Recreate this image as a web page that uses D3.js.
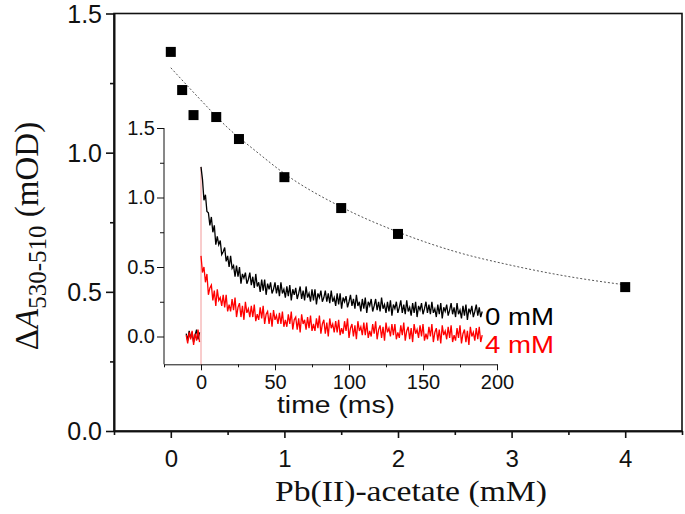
<!DOCTYPE html>
<html><head><meta charset="utf-8">
<script src="https://cdn.jsdelivr.net/npm/d3@7"></script>
<style>
html,body{margin:0;padding:0;background:#fff;}
svg{display:block;}
</style></head>
<body><div id="chart"></div>
<script>
// ---------- main chart data ----------
const concentration = [0, 0.1, 0.2, 0.4, 0.6, 1.0, 1.5, 2.0, 4.0];
const deltaA = [1.362, 1.225, 1.135, 1.128, 1.049, 0.912, 0.801, 0.708, 0.517];
const fitConc = [0, 0.25, 0.5, 0.75, 1, 1.5, 2, 2.5, 3, 3.5, 4];
const fitDeltaA = [1.305, 1.195, 1.09, 1.005, 0.925, 0.805, 0.715, 0.645, 0.595, 0.555, 0.525];
const mainXTicks = [0, 1, 2, 3, 4];
const mainXMinor = [-0.5, 0.5, 1.5, 2.5, 3.5, 4.5];
const mainYTicks = [0, 0.5, 1.0, 1.5];
const mainYMinor = [0.25, 0.75, 1.25];

// ---------- inset data (kinetic traces, 1 ms sampling) ----------
const preStart = -10;           // pre-trigger samples start (ms)
const postStart = 0;            // post-trigger samples start (ms)
const sampleStep = 1;           // ms
const pre0mM = [0.02,-0.03,0.04,-0.01,0.03,-0.04,0.01,0.05,-0.02,0.03];
const pre4mM = [0.01,-0.05,0.03,-0.02,0.04,-0.06,0.02,-0.03,0.05,-0.04];
const trace0mM = [
1.22,1.13,0.98,1.02,0.90,0.89,0.80,0.86,0.75,0.80,0.66,0.72,0.66,0.69,0.59,0.61,0.64,0.54,
0.58,0.50,0.58,0.49,0.51,0.43,0.51,0.43,0.50,0.38,0.45,0.42,0.46,0.38,0.41,0.46,0.37,
0.43,0.35,0.45,0.36,0.39,0.32,0.41,0.33,0.41,0.30,0.38,0.34,0.39,0.31,0.34,0.39,0.31,
0.37,0.29,0.39,0.31,0.34,0.28,0.36,0.29,0.37,0.26,0.34,0.30,0.35,0.27,0.31,0.36,0.27,
0.33,0.26,0.36,0.28,0.31,0.25,0.34,0.26,0.34,0.23,0.31,0.28,0.33,0.25,0.28,0.33,0.25,
0.31,0.24,0.33,0.25,0.28,0.22,0.31,0.23,0.31,0.20,0.28,0.25,0.29,0.21,0.25,0.30,0.22,
0.27,0.20,0.30,0.22,0.25,0.18,0.27,0.20,0.28,0.17,0.25,0.22,0.27,0.18,0.22,0.27,0.19,
0.25,0.18,0.28,0.20,0.23,0.17,0.25,0.18,0.26,0.15,0.23,0.20,0.25,0.17,0.21,0.26,0.17,
0.23,0.16,0.26,0.18,0.21,0.15,0.24,0.17,0.25,0.14,0.22,0.19,0.24,0.16,0.20,0.25,0.17,
0.23,0.16,0.25,0.17,0.20,0.14,0.23,0.16,0.24,0.13,0.21,0.18,0.23,0.15,0.19,0.24,0.16,
0.21,0.14,0.24,0.16,0.19,0.13,0.22,0.15,0.23,0.12,0.20,0.17,0.22,0.14,0.18,0.23,0.15,
0.21,0.14,0.18];
const trace4mM = [
0.58,0.46,0.50,0.39,0.45,0.30,0.35,0.37,0.26,0.33,0.22,0.34,0.26,0.28,0.22,0.30,0.21,0.30,0.18,0.23,
0.18,0.27,0.19,0.28,0.14,0.21,0.24,0.14,0.22,0.12,0.25,0.17,0.20,0.14,0.22,0.14,0.23,0.11,0.16,
0.12,0.21,0.13,0.22,0.09,0.16,0.18,0.09,0.17,0.07,0.19,0.12,0.15,0.09,0.17,0.09,0.18,0.07,0.12,
0.07,0.16,0.09,0.18,0.05,0.12,0.14,0.05,0.13,0.03,0.16,0.09,0.12,0.05,0.14,0.06,0.15,0.04,0.09,
0.04,0.13,0.06,0.15,0.02,0.09,0.12,0.02,0.10,0.00,0.13,0.06,0.09,0.03,0.11,0.03,0.12,0.01,0.06,
0.02,0.11,0.04,0.13,-0.01,0.06,0.09,0.00,0.08,-0.02,0.11,0.04,0.07,0.01,0.10,0.01,0.10,-0.01,0.04,
0.00,0.09,0.02,0.11,-0.02,0.05,0.08,-0.01,0.07,-0.03,0.10,0.03,0.06,0.00,0.09,0.01,0.09,-0.02,0.03,
-0.01,0.08,0.01,0.10,-0.03,0.04,0.07,-0.02,0.06,-0.04,0.09,0.02,0.05,-0.01,0.08,0.00,0.09,-0.03,0.02,
-0.02,0.07,0.00,0.09,-0.04,0.03,0.06,-0.03,0.05,-0.05,0.08,0.01,0.04,-0.02,0.07,-0.01,0.08,-0.04,0.01,
-0.03,0.06,-0.01,0.08,-0.05,0.02,0.05,-0.04,0.04,-0.06,0.07,0.00,0.03,-0.03,0.06,-0.02,0.07,-0.04,0.01];
const insetXTicks = [0, 50, 100, 150, 200];
const insetXMinor = [-25, 25, 75, 125, 175];
const insetYTicks = [0.0, 0.5, 1.0, 1.5];
const insetYMinor = [0.25, 0.75, 1.25];
const seriesLabels = ["0 mM", "4 mM"];
const seriesColors = ["#000000", "#ff0000"];

// ---------- drawing ----------
const W = 685, H = 514;
const svg = d3.select("#chart").append("svg").attr("width", W).attr("height", H);
const sans = "'Liberation Sans', Arial, sans-serif";
const serif = "'Liberation Serif', 'Times New Roman', serif";

const P = {left:114, right:682, top:13.5, bottom:431};
const x = d3.scaleLinear().domain([-0.5, 4.5]).range([P.left, P.right]);
const y = d3.scaleLinear().domain([0, 1.5]).range([P.bottom, P.top]);

// frame
svg.append("rect").attr("x",P.left).attr("y",P.top)
  .attr("width",P.right-P.left).attr("height",P.bottom-P.top)
  .attr("fill","none").attr("stroke","#111").attr("stroke-width",1.6);

function styleAxis(g, sw){
  g.select(".domain").attr("stroke","#111").attr("stroke-width",sw);
  g.selectAll(".tick line").attr("stroke","#111").attr("stroke-width",sw);
}
// main y axis
const gy = svg.append("g").attr("transform",`translate(${P.left},0)`)
  .call(d3.axisLeft(y).tickValues(mainYTicks).tickFormat(d3.format(".1f")).tickSize(8).tickSizeOuter(0).tickPadding(4));
styleAxis(gy,1.6);
gy.selectAll("text").attr("font-family",sans).attr("font-size",25).attr("fill","#111").attr("dy","0.35em");
const gym = svg.append("g").attr("transform",`translate(${P.left},0)`)
  .call(d3.axisLeft(y).tickValues(mainYMinor).tickFormat("").tickSize(4).tickSizeOuter(0));
styleAxis(gym,1.6);
// main x axis
const gx = svg.append("g").attr("transform",`translate(0,${P.bottom})`)
  .call(d3.axisBottom(x).tickValues(mainXTicks).tickFormat(d3.format("d")).tickSize(7).tickSizeOuter(0).tickPadding(12));
styleAxis(gx,1.6);
gx.selectAll("text").attr("font-family",sans).attr("font-size",24).attr("fill","#111");
const gxm = svg.append("g").attr("transform",`translate(0,${P.bottom})`)
  .call(d3.axisBottom(x).tickValues(mainXMinor).tickFormat("").tickSize(4).tickSizeOuter(0));
styleAxis(gxm,1.6);

// axis titles
svg.append("text").attr("x",411).attr("y",501).attr("text-anchor","middle")
  .attr("font-family",serif).attr("font-size",30).attr("fill","#111")
  .attr("textLength",272).attr("lengthAdjust","spacingAndGlyphs")
  .text("Pb(II)-acetate (mM)");
const yt = svg.append("text").attr("transform","translate(38,236) rotate(-90)")
  .attr("text-anchor","middle").attr("font-family",serif).attr("font-size",33).attr("fill","#111");
yt.append("tspan").text("Δ");
yt.append("tspan").attr("font-style","italic").text("A");
yt.append("tspan").attr("font-size",25).attr("dy",8).text("530-510");
yt.append("tspan").attr("dy",-8).text(" (mOD)");

// fit line
svg.append("path").datum(fitConc.map((c,i)=>[c,fitDeltaA[i]]))
  .attr("d", d3.line().x(d=>x(d[0])).y(d=>y(d[1])).curve(d3.curveMonotoneX))
  .attr("fill","none").attr("stroke","#555").attr("stroke-width",1).attr("stroke-dasharray","2,2");

// squares
const sq = 10;
svg.append("g").selectAll("rect").data(concentration).join("rect")
  .attr("x",(d)=>x(d)-sq/2).attr("y",(d,i)=>y(deltaA[i])-sq/2)
  .attr("width",sq).attr("height",sq).attr("fill","#000");

// ---------- inset ----------
const I = {left:164, right:497, top:128, bottom:364.3};
const xi = d3.scaleLinear().domain([-25, 200]).range([I.left, I.right]);
const yi = d3.scaleLinear().domain([-0.2, 1.5]).range([I.bottom, I.top]);

const giy = svg.append("g").attr("transform",`translate(${I.left},0)`)
  .call(d3.axisLeft(yi).tickValues(insetYTicks).tickFormat(d3.format(".1f")).tickSize(7).tickSizeOuter(0).tickPadding(2));
styleAxis(giy,1);
giy.select(".domain").attr("d",`M0,${I.top}V${I.bottom}`);
giy.selectAll("text").attr("font-family",sans).attr("font-size",20).attr("fill","#111");
const giym = svg.append("g").attr("transform",`translate(${I.left},0)`)
  .call(d3.axisLeft(yi).tickValues(insetYMinor).tickFormat("").tickSize(4).tickSizeOuter(0));
styleAxis(giym,1); giym.select(".domain").remove();

const gix = svg.append("g").attr("transform",`translate(0,${I.bottom})`)
  .call(d3.axisBottom(xi).tickValues(insetXTicks).tickFormat(d3.format("d")).tickSize(6).tickSizeOuter(0).tickPadding(5));
styleAxis(gix,1);
gix.selectAll("text").attr("font-family",sans).attr("font-size",20).attr("fill","#111");
const gixm = svg.append("g").attr("transform",`translate(0,${I.bottom})`)
  .call(d3.axisBottom(xi).tickValues(insetXMinor).tickFormat("").tickSize(3).tickSizeOuter(0));
styleAxis(gixm,1); gixm.select(".domain").remove();

svg.append("text").attr("x",336).attr("y",413).attr("text-anchor","middle")
  .attr("font-family",sans).attr("font-size",23).attr("fill","#111")
  .attr("textLength",118).attr("lengthAdjust","spacingAndGlyphs").text("time (ms)");

// trigger marker at t = 0
svg.append("line").attr("x1",xi(0)).attr("x2",xi(0)).attr("y1",yi(-0.2)).attr("y2",yi(trace0mM[0]))
  .attr("stroke","#f29a9a").attr("stroke-width",1);

const lineI = d3.line().x(d=>xi(d[0])).y(d=>yi(d[1]));
function drawTrace(pre, post, color){
  const preData = pre.map((v,i)=>[preStart + i*sampleStep, v]);
  const postData = post.map((v,i)=>[postStart + i*sampleStep, v]);
  svg.append("path").datum(preData).attr("d",lineI).attr("fill","none").attr("stroke",color).attr("stroke-width",1.3);
  svg.append("path").datum(postData).attr("d",lineI).attr("fill","none").attr("stroke",color).attr("stroke-width",1.3);
}
drawTrace(pre0mM, trace0mM, seriesColors[0]);
drawTrace(pre4mM, trace4mM, seriesColors[1]);

// series labels
const labelY = [325, 353];
seriesLabels.forEach((t,i)=>{
  svg.append("text").attr("x",485).attr("y",labelY[i]).attr("font-family",sans).attr("font-size",23)
    .attr("fill",seriesColors[i]).attr("textLength",69).attr("lengthAdjust","spacingAndGlyphs").text(t);
});
</script></body></html>
